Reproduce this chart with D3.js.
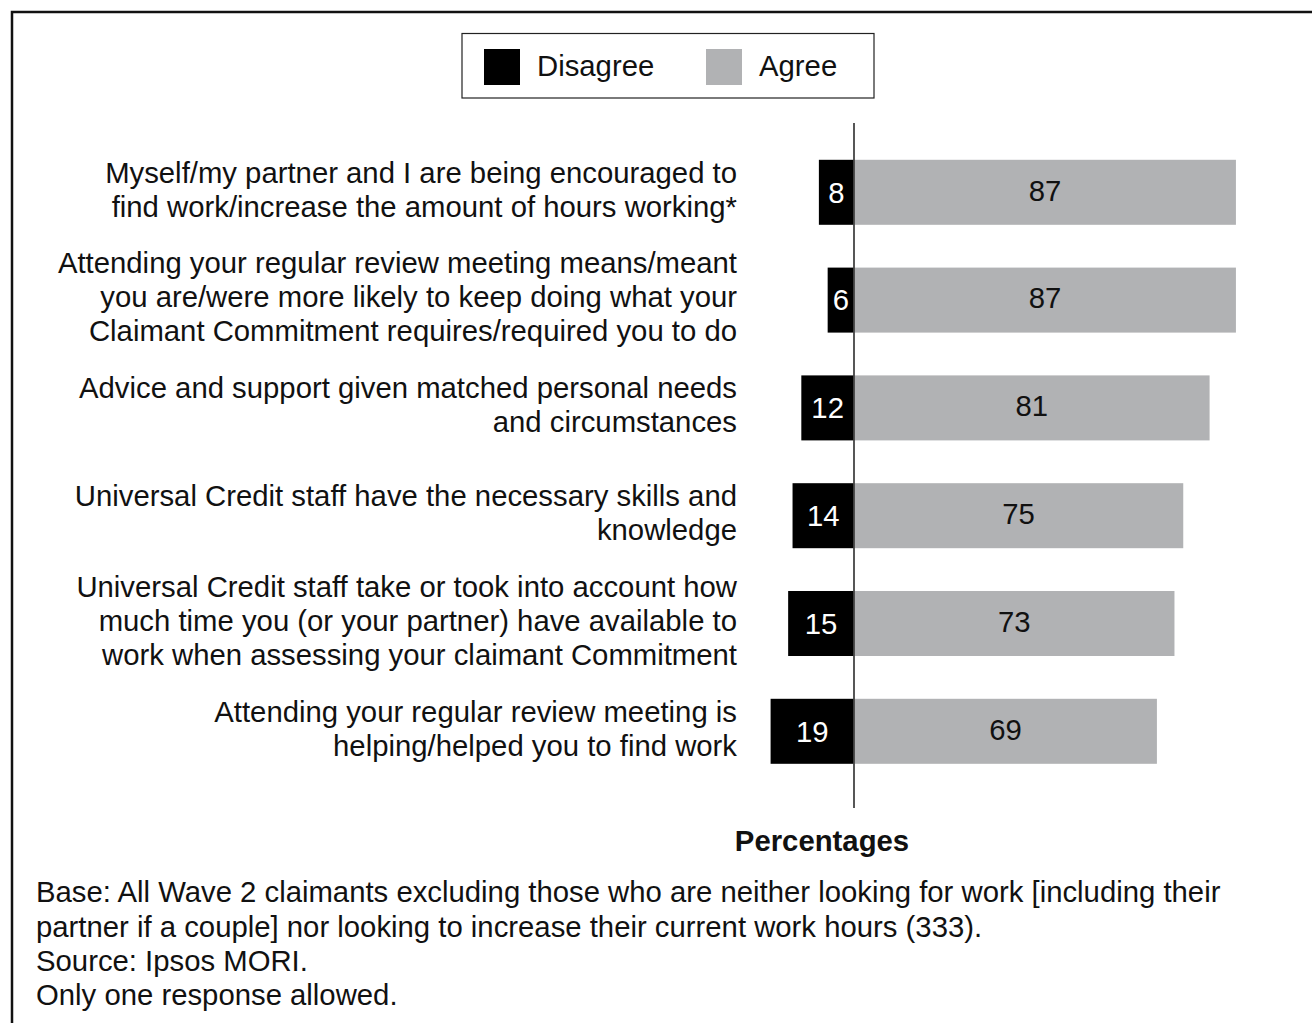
<!DOCTYPE html>
<html>
<head>
<meta charset="utf-8">
<script src="https://cdn.jsdelivr.net/npm/d3@7"></script>
<style>
  html, body { margin: 0; padding: 0; background: #fff; }
  svg { display: block; font-family: "Liberation Sans", Arial, sans-serif; }
</style>
</head>
<body>
<svg id="chart" width="1312" height="1023"></svg>
<script>
// Statements, each split into the lines it is printed on
const statements = [
  ["Myself/my partner and I are being encouraged to",
   "find work/increase the amount of hours working*"],
  ["Attending your regular review meeting means/meant",
   "you are/were more likely to keep doing what your",
   "Claimant Commitment requires/required you to do"],
  ["Advice and support given matched personal needs",
   "and circumstances"],
  ["Universal Credit staff have the necessary skills and",
   "knowledge"],
  ["Universal Credit staff take or took into account how",
   "much time you (or your partner) have available to",
   "work when assessing your claimant Commitment"],
  ["Attending your regular review meeting is",
   "helping/helped you to find work"]
];
const disagree = [8, 6, 12, 14, 15, 19];
const agree = [87, 87, 81, 75, 73, 69];
const seriesNames = ["Disagree", "Agree"];
const seriesColors = ["#000000", "#b1b2b4"];
const axisTitle = "Percentages";
const notes = [
  "Base: All Wave 2 claimants excluding those who are neither looking for work [including their",
  "partner if a couple] nor looking to increase their current work hours (333).",
  "Source: Ipsos MORI.",
  "Only one response allowed."
];

const svg = d3.select("#chart");
const fontSize = 29.3;

// outer frame (runs off the right and bottom edges)
svg.append("path")
  .attr("d", "M12,1040 L12,12 L1330,12")
  .attr("fill", "none")
  .attr("stroke", "#111")
  .attr("stroke-width", 2.5);

const ids = statements.map((d, i) => i);
const x = d3.scaleLinear().domain([0, 100]).range([854, 854 + 439]);
const y = d3.scaleBand().domain(ids).range([138.4, 785.2])
  .paddingInner(0.397).paddingOuter(0.1985);

// legend
const lg = svg.append("g");
lg.append("rect").attr("x", 462).attr("y", 33.5).attr("width", 412).attr("height", 64.5)
  .attr("fill", "#fff").attr("stroke", "#222").attr("stroke-width", 1.2);
const legendX = [484, 706];
seriesNames.forEach((name, i) => {
  lg.append("rect").attr("x", legendX[i]).attr("y", 49).attr("width", 36).attr("height", 36)
    .attr("fill", seriesColors[i]);
  lg.append("text").attr("x", legendX[i] + 53).attr("y", 66).attr("dy", "0.35em")
    .attr("font-size", fontSize).attr("fill", "#111").text(name);
});

// bars
const rows = svg.append("g").selectAll("g").data(ids).join("g");
rows.append("rect")
  .attr("x", i => x(-disagree[i]))
  .attr("y", i => y(i))
  .attr("width", i => x(0) - x(-disagree[i]))
  .attr("height", y.bandwidth())
  .attr("fill", seriesColors[0]);
rows.append("rect")
  .attr("x", x(0))
  .attr("y", i => y(i))
  .attr("width", i => x(agree[i]) - x(0))
  .attr("height", y.bandwidth())
  .attr("fill", seriesColors[1]);

// value labels
rows.append("text")
  .attr("x", i => (x(-disagree[i]) + x(0)) / 2)
  .attr("y", i => y(i) + y.bandwidth() / 2)
  .attr("dy", "0.35em")
  .attr("text-anchor", "middle")
  .attr("font-size", fontSize)
  .attr("fill", "#fff")
  .text(i => disagree[i]);
rows.append("text")
  .attr("x", i => (x(agree[i]) + x(0)) / 2)
  .attr("y", i => y(i) + y.bandwidth() / 2 - 2)
  .attr("dy", "0.35em")
  .attr("text-anchor", "middle")
  .attr("font-size", fontSize)
  .attr("fill", "#111")
  .text(i => agree[i]);

// zero line
svg.append("line")
  .attr("x1", x(0)).attr("x2", x(0))
  .attr("y1", 123).attr("y2", 808)
  .attr("stroke", "#444").attr("stroke-width", 1.8);

// category labels, right aligned, centred on each bar
const lineH = 34;
rows.append("text")
  .attr("text-anchor", "end")
  .attr("font-size", fontSize)
  .attr("fill", "#111")
  .each(function (i) {
    const lines = statements[i];
    const cy = y(i) + y.bandwidth() / 2 - 3;
    const t = d3.select(this);
    lines.forEach((ln, k) => {
      t.append("tspan")
        .attr("x", 737)
        .attr("y", cy + (k - (lines.length - 1) / 2) * lineH)
        .attr("dy", "0.35em")
        .text(ln);
    });
  });

// axis title
svg.append("text")
  .attr("x", 822).attr("y", 841).attr("dy", "0.35em")
  .attr("text-anchor", "middle")
  .attr("font-size", fontSize).attr("font-weight", "bold").attr("fill", "#111")
  .text(axisTitle);

// notes
svg.append("g").selectAll("text").data(notes).join("text")
  .attr("x", 36)
  .attr("y", (d, k) => 892 + k * 34.3)
  .attr("dy", "0.35em")
  .attr("font-size", fontSize)
  .attr("fill", "#111")
  .text(d => d);
</script>
</body>
</html>
